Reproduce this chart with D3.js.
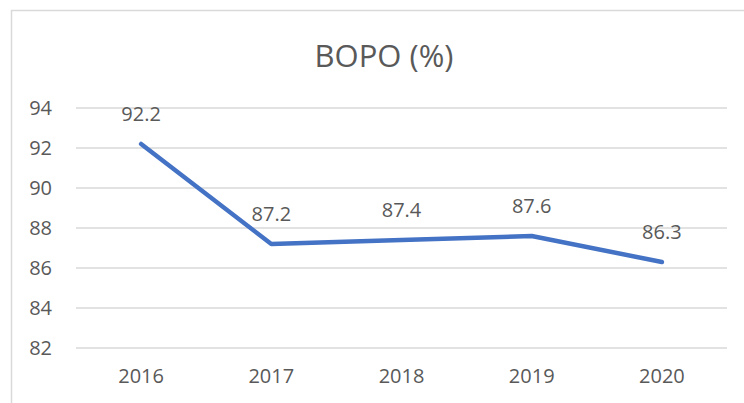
<!DOCTYPE html>
<html>
<head>
<meta charset="utf-8">
<script src="https://cdn.jsdelivr.net/npm/d3@7"></script>
<style>
  body { margin: 0; background: #fff; }
  text { font-family: "Open Sans", "Liberation Sans", sans-serif; fill: #595959; }
</style>
</head>
<body>
<div id="chart-container"></div>
<script>
const years = ['2016', '2017', '2018', '2019', '2020'];
const bopo = [92.2, 87.2, 87.4, 87.6, 86.3];
const yTicks = [82, 84, 86, 88, 90, 92, 94];

const width = 744, height = 403;
const margin = { top: 108, right: 17, bottom: 55, left: 76 };

const svg = d3.select('#chart-container')
  .append('svg')
  .attr('width', width)
  .attr('height', height);

// chart frame (only left/top visible in the crop)
svg.append('rect')
  .attr('x', 11.5).attr('y', 10.5)
  .attr('width', 800).attr('height', 500)
  .attr('fill', 'none')
  .attr('stroke', '#d9d9d9')
  .attr('stroke-width', 1.5);

const x = d3.scaleBand()
  .domain(years)
  .range([margin.left, width - margin.right]);

const y = d3.scaleLinear()
  .domain([82, 94])
  .range([height - margin.bottom, margin.top]);

// gridlines
svg.append('g')
  .selectAll('line')
  .data(yTicks)
  .enter()
  .append('line')
  .attr('x1', margin.left)
  .attr('x2', width - margin.right)
  .attr('y1', d => y(d))
  .attr('y2', d => y(d))
  .attr('stroke', '#d9d9d9')
  .attr('stroke-width', 1.5);

// y axis labels
const yAxis = svg.append('g')
  .attr('transform', `translate(${margin.left},0)`)
  .call(d3.axisLeft(y).tickValues(yTicks).tickSize(0).tickPadding(24));
yAxis.select('.domain').remove();
yAxis.selectAll('text').style('font-size', '20px').attr('fill', '#595959');

// x axis labels
const xAxis = svg.append('g')
  .attr('transform', `translate(0,${height - margin.bottom})`)
  .call(d3.axisBottom(x).tickSize(0).tickPadding(21));
xAxis.select('.domain').remove();
xAxis.selectAll('text').style('font-size', '20px').attr('fill', '#595959');

// title
svg.append('text')
  .attr('x', 384)
  .attr('y', 67)
  .attr('text-anchor', 'middle')
  .style('font-size', '31px')
  .text('BOPO (%)');

// line
const line = d3.line()
  .x((d, i) => x(years[i]) + x.bandwidth() / 2)
  .y(d => y(d));

svg.append('path')
  .datum(bopo)
  .attr('d', line)
  .attr('fill', 'none')
  .attr('stroke', '#4472C4')
  .attr('stroke-width', 4.5)
  .attr('stroke-linejoin', 'round')
  .attr('stroke-linecap', 'round');

// data labels
svg.append('g')
  .selectAll('text')
  .data(bopo)
  .enter()
  .append('text')
  .attr('x', (d, i) => x(years[i]) + x.bandwidth() / 2)
  .attr('y', d => y(d) - 23)
  .attr('text-anchor', 'middle')
  .style('font-size', '20px')
  .text(d => d.toFixed(1));
</script>
</body>
</html>
